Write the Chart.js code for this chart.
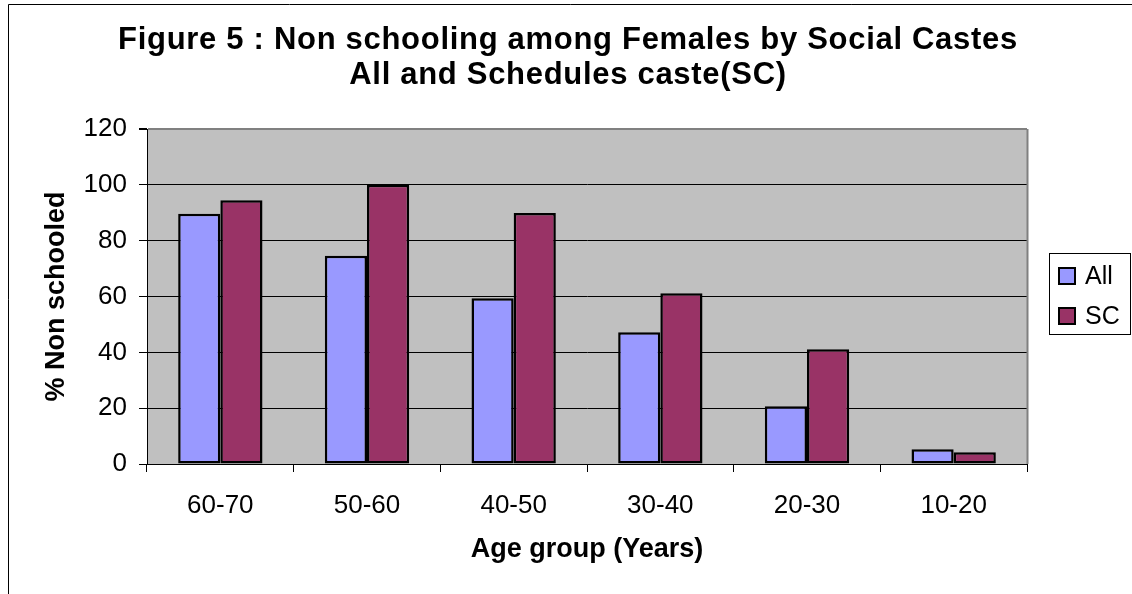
<!DOCTYPE html>
<html>
<head>
<meta charset="utf-8">
<title>Non schooling among Females by Social Castes</title>
<script src="https://cdn.jsdelivr.net/npm/chart.js@4.4.1/dist/chart.umd.min.js"></script>
<style>
  html, body { margin: 0; padding: 0; background: #ffffff; }
  #wrap { width: 1132px; height: 594px; }
  canvas { display: block; }
</style>
</head>
<body>
<div id="wrap"><canvas id="chart" width="1132" height="594"></canvas></div>
<script>
// Age groups on the horizontal axis
const ageGroups = ['60-70', '50-60', '40-50', '30-40', '20-30', '10-20'];
// Percentage of women never schooled
const allValues = [89.6, 74.6, 59.4, 47.2, 20.7, 5.3];
const scValues = [94.5, 100, 89.9, 61.2, 41.1, 4.2];
// Series names
const seriesNames = ['All', 'SC'];
// Value axis
const yMin = 0;
const yMax = 120;
const yStep = 20;

const titleLines = [
  'Figure 5 : Non schooling among Females by Social Castes',
  'All and Schedules caste(SC)'
];
const xTitle = 'Age group (Years)';
const yTitle = '% Non schooled';

const FONT = '"Liberation Sans", Arial, Helvetica, sans-serif';
const colors = ['#9999FF', '#993366'];

// Page frame, grey plot background, plot border on the right
const framePlugin = {
  id: 'frame',
  beforeDraw(chart) {
    const { ctx, chartArea: a } = chart;
    ctx.save();
    ctx.fillStyle = '#ffffff';
    ctx.fillRect(0, 0, chart.width, chart.height);
    ctx.fillStyle = '#C0C0C0';
    ctx.fillRect(a.left, a.top, a.right - a.left, a.bottom - a.top);
    ctx.strokeStyle = '#000000';
    ctx.lineWidth = 1;
    ctx.beginPath();
    ctx.moveTo(8.5, chart.height);
    ctx.lineTo(8.5, 4.5);
    ctx.lineTo(chart.width, 4.5);
    ctx.stroke();
    ctx.restore();
  },
  beforeDatasetsDraw(chart) {
    const { ctx, chartArea: a } = chart;
    ctx.save();
    ctx.strokeStyle = '#808080';
    ctx.lineWidth = 2;
    ctx.beginPath();
    ctx.moveTo(a.right + 0.5, a.top);
    ctx.lineTo(a.right + 0.5, a.bottom);
    ctx.stroke();
    ctx.restore();
  }
};

// Two-line heading and the boxed legend
const headingPlugin = {
  id: 'heading',
  afterDraw(chart) {
    const { ctx } = chart;
    ctx.save();
    ctx.fillStyle = '#000000';
    ctx.textAlign = 'center';
    ctx.textBaseline = 'alphabetic';
    ctx.font = 'bold 31px ' + FONT;
    if ('letterSpacing' in ctx) ctx.letterSpacing = '0.7px';
    ctx.fillText(titleLines[0], 568, 49);
    ctx.fillText(titleLines[1], 568, 84);
    if ('letterSpacing' in ctx) ctx.letterSpacing = '0px';

    // legend
    const bx = 1049.5, by = 253.5, bw = 81, bh = 81;
    ctx.fillStyle = '#ffffff';
    ctx.fillRect(bx, by, bw, bh);
    ctx.strokeStyle = '#000000';
    ctx.lineWidth = 1;
    ctx.strokeRect(bx, by, bw, bh);
    ctx.textAlign = 'left';
    ctx.font = '25px ' + FONT;
    chart.data.datasets.forEach((ds, i) => {
      const sy = 268 + i * 40;
      ctx.fillStyle = ds.backgroundColor;
      ctx.fillRect(1059, sy, 16, 16);
      ctx.lineWidth = 2;
      ctx.strokeStyle = '#000000';
      ctx.strokeRect(1059, sy, 16, 16);
      ctx.fillStyle = '#000000';
      ctx.fillText(ds.label, 1085, sy + 16);
    });
    ctx.restore();
  }
};

new Chart(document.getElementById('chart'), {
  type: 'bar',
  data: {
    labels: ageGroups,
    datasets: [
      {
        label: seriesNames[0],
        data: allValues,
        backgroundColor: colors[0],
        borderColor: '#000000',
        borderWidth: 2.5,
        borderSkipped: false
      },
      {
        label: seriesNames[1],
        data: scValues,
        backgroundColor: colors[1],
        borderColor: '#000000',
        borderWidth: 2.5,
        borderSkipped: false
      }
    ]
  },
  options: {
    responsive: false,
    animation: false,
    devicePixelRatio: 1,
    layout: { padding: { top: 129, left: 0, right: 105, bottom: 0 } },
    datasets: { bar: { categoryPercentage: 0.575, barPercentage: 1.0 } },
    plugins: {
      legend: { display: false },
      title: { display: false },
      tooltip: { enabled: false }
    },
    scales: {
      x: {
        offset: true,
        grid: {
          offset: true,
          drawOnChartArea: false,
          drawTicks: true,
          tickLength: 8,
          tickColor: '#000000'
        },
        border: { display: true, color: '#000000', width: 1 },
        ticks: {
          color: '#000000',
          font: { family: FONT, size: 26 },
          padding: 18,
          maxRotation: 0
        },
        title: {
          display: true,
          text: xTitle,
          color: '#000000',
          font: { family: FONT, size: 27, weight: 'bold' },
          padding: { top: 28, bottom: 28 }
        },
        afterFit(scale) { scale.height = 130; }
      },
      y: {
        min: yMin,
        max: yMax,
        grid: {
          color: (c) => (c.tick && c.tick.value === yMax ? '#808080' : '#000000'),
          lineWidth: (c) => (c.tick && c.tick.value === yMax ? 2 : 1),
          tickColor: '#000000',
          tickLength: 8,
          drawTicks: true
        },
        border: { display: true, color: '#000000', width: 1 },
        ticks: {
          stepSize: yStep,
          color: '#000000',
          font: { family: FONT, size: 26 },
          padding: 12
        },
        title: {
          display: true,
          text: yTitle,
          color: '#000000',
          font: { family: FONT, size: 27, weight: 'bold' },
          padding: { top: 40, bottom: 0 }
        },
        afterFit(scale) { scale.width = 147; }
      }
    }
  },
  plugins: [framePlugin, headingPlugin]
});
</script>
</body>
</html>
